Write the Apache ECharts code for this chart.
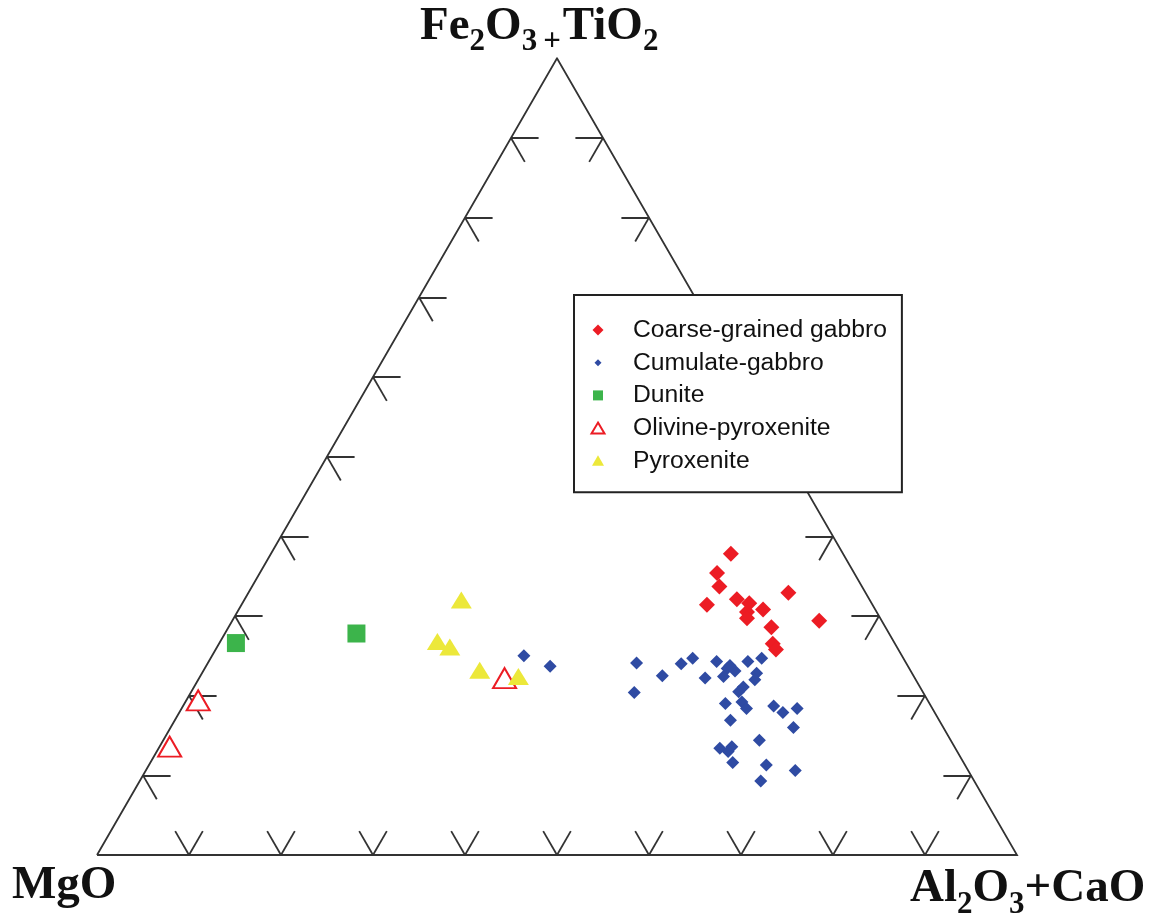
<!DOCTYPE html>
<html>
<head>
<meta charset="utf-8">
<script src="https://cdn.jsdelivr.net/npm/echarts@6/dist/echarts.min.js"></script>
<style>html,body{margin:0;padding:0;background:#fff}#c{width:1153px;height:918px}</style>
</head>
<body>
<div id="c"></div>
<script>
// Compositions as [MgO, Fe2O3+TiO2, Al2O3+CaO] (%)
const coarseGabbro = [
  [12.2,37.8,50.0],[14.9,35.4,49.7],[15.5,33.7,50.8],[18.0,31.4,50.6],[14.4,32.1,53.5],
  [13.3,31.6,55.1],[14.1,30.5,55.4],[14.5,29.7,55.8],[12.2,30.8,57.0],[8.4,32.9,58.7],
  [6.8,29.4,63.8],[12.4,28.6,59.0],[13.3,26.5,60.2],[13.3,25.8,60.9]
];
const cumulateGabbro = [
  [29.3,24.1,46.6],[31.4,20.4,48.2],[27.3,22.5,50.2],[24.5,24.0,51.5],[22.9,24.7,52.4],
  [22.8,22.2,55.0],[20.5,24.3,55.2],[19.8,23.4,56.8],[19.1,23.1,57.8],[20.7,22.4,56.9],
  [19.3,23.8,56.9],[17.1,24.3,58.6],[15.4,24.7,59.9],[16.9,22.8,60.3],[17.5,22.0,60.5],
  [19.2,21.1,59.7],[20.0,20.5,59.5],[22.2,19.0,58.8],[20.3,19.2,60.5],[20.2,18.4,61.4],
  [17.1,18.7,64.2],[16.5,17.9,65.6],[14.7,18.4,66.9],[16.3,16.0,67.7],[22.7,16.9,60.4],
  [20.8,14.4,64.8],[25.6,13.4,61.0],[24.2,13.6,62.2],[24.9,13.0,62.1],[25.1,11.6,63.3],
  [21.6,11.3,67.1],[18.8,10.6,70.6],[23.2,9.3,67.5],[41.1,25.0,33.9],[38.9,23.7,37.4]
];
const dunite = [[71.6,26.6,1.8],[57.9,27.8,14.3]];
const olivinePyroxenite = [[44.6,22.2,33.2],[79.3,19.4,1.3],[85.3,13.6,1.1]];
const pyroxenite = [[44.4,32.0,23.6],[49.6,26.8,23.6],[48.6,26.1,25.3],[46.8,23.2,30.0],[43.0,22.4,34.6]];
const tickValues = [10,20,30,40,50,60,70,80,90];
const seriesNames = ['Coarse-grained gabbro','Cumulate-gabbro','Dunite','Olivine-pyroxenite','Pyroxenite'];

const H = Math.sqrt(3) / 2;
function proj(p) {
  const s = p[0] + p[1] + p[2];
  const fe = p[1] / s * 100, al = p[2] / s * 100;
  return [al + fe / 2, fe * H];
}
const TL = 3;
const frame = [{coords: [proj([100,0,0]), proj([0,100,0]), proj([0,0,100]), proj([100,0,0])]}];
const tickSegs = [];
tickValues.forEach(t => {
  const L = [100 - t, t, 0];
  tickSegs.push({coords: [proj(L), proj([100 - t - TL, t, TL])]});
  tickSegs.push({coords: [proj(L), proj([100 - t, t - TL, TL])]});
  const R = [0, t, 100 - t];
  tickSegs.push({coords: [proj(R), proj([TL, t, 100 - t - TL])]});
  tickSegs.push({coords: [proj(R), proj([TL, t - TL, 100 - t])]});
  const B = [100 - t, 0, t];
  tickSegs.push({coords: [proj(B), proj([100 - t - TL, TL, t])]});
  tickSegs.push({coords: [proj(B), proj([100 - t, TL, t - TL])]});
});

const RED = '#ec1c24', BLUE = '#2f4ba3', GREEN = '#3cb44b', YELLOW = '#ece83a';
const box = 'M0 0 M16 16 ';
const legendIcons = [
  'path://' + box + 'M8 2.5 L13.5 8 L8 13.5 L2.5 8 Z',
  'path://' + box + 'M8 4.5 L11.5 8 L8 11.5 L4.5 8 Z',
  'path://' + box + 'M3 3 L13 3 L13 13 L3 13 Z',
  'path://' + box + 'M8 2.5 L14.5 13.5 L1.5 13.5 Z',
  'path://' + box + 'M8 2.5 L14 13 L2 13 Z'
];

const serif = 'Liberation Serif';
function rich(subPad) {
  return {
    b: {fontFamily: serif, fontWeight: 'bold', fontSize: 47, lineHeight: 60, fill: '#111'},
    s: {fontFamily: serif, fontWeight: 'bold', fontSize: 31, lineHeight: 60, fill: '#111', padding: [subPad, 0, 0, 0]},
    p: {fontFamily: serif, fontWeight: 'bold', fontSize: 31, lineHeight: 60, fill: '#111', padding: [subPad, 2, 0, 6]}
  };
}

const chart = echarts.init(document.getElementById('c'), null, {renderer: 'canvas'});
chart.setOption({
  animation: false,
  backgroundColor: '#fff',
  grid: {left: 97, right: 136, top: 58.26, bottom: 63, containLabel: false, outerBoundsMode: 'none'},
  xAxis: {type: 'value', min: 0, max: 100, show: false},
  yAxis: {type: 'value', min: 0, max: 100 * H, show: false},
  legend: {
    orient: 'vertical', left: 574, top: 295,
    data: seriesNames.map((n, i) => ({name: n, icon: legendIcons[i]})),
    itemWidth: 16, itemHeight: 16, itemGap: 7.7,
    padding: [22.5, 15, 19, 15],
    backgroundColor: '#fff', borderColor: '#222', borderWidth: 2, borderRadius: 0,
    selectedMode: false,
    textStyle: {fontFamily: 'Liberation Sans', fontSize: 24.7, color: '#111', lineHeight: 24, padding: [0, 0, 0, 22]}
  },
  graphic: [
    {type: 'text', x: 420, y: -3, style: {text: '{b|Fe}{s|2}{b|O}{s|3}{p|+}{b|TiO}{s|2}', rich: rich(30), align: 'left', verticalAlign: 'top'}},
    {type: 'text', x: 12, y: 856, style: {text: '{b|MgO}', rich: rich(30), align: 'left', verticalAlign: 'top'}},
    {type: 'text', x: 910, y: 859, style: {text: '{b|Al}{s|2}{b|O}{s|3}{b|+CaO}', rich: rich(32), align: 'left', verticalAlign: 'top'}}
  ],
  series: [
    {type: 'lines', coordinateSystem: 'cartesian2d', polyline: true, silent: true, z: 1,
     lineStyle: {color: '#333', width: 1.8, opacity: 1, join: 'miter'}, data: frame},
    {type: 'lines', coordinateSystem: 'cartesian2d', silent: true, z: 1,
     lineStyle: {color: '#333', width: 1.8, opacity: 1}, data: tickSegs},
    {name: 'Cumulate-gabbro', type: 'scatter', symbol: 'diamond', symbolSize: 13,
     itemStyle: {color: BLUE, opacity: 1}, data: cumulateGabbro.map(proj)},
    {name: 'Coarse-grained gabbro', type: 'scatter', symbol: 'diamond', symbolSize: 16,
     itemStyle: {color: RED, opacity: 1}, data: coarseGabbro.map(proj)},
    {name: 'Dunite', type: 'scatter', symbol: 'rect', symbolSize: 18,
     itemStyle: {color: GREEN, opacity: 1}, data: dunite.map(proj)},
    {name: 'Olivine-pyroxenite', type: 'scatter', symbol: 'triangle', symbolSize: [23, 20],
     itemStyle: {color: '#fff', borderColor: RED, borderWidth: 2, opacity: 1}, data: olivinePyroxenite.map(proj)},
    {name: 'Pyroxenite', type: 'scatter', symbol: 'triangle', symbolSize: [21, 17],
     itemStyle: {color: YELLOW, opacity: 1}, data: pyroxenite.map(proj)}
  ]
});
</script>
</body>
</html>
